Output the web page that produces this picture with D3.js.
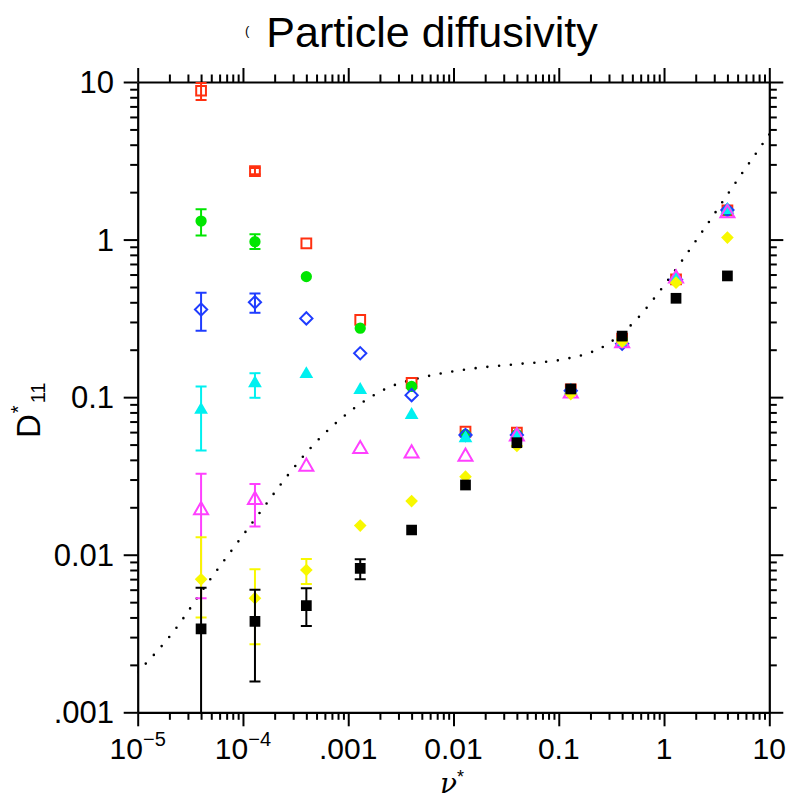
<!DOCTYPE html>
<html>
<head>
<meta charset="utf-8">
<script src="https://cdn.jsdelivr.net/npm/d3@7"></script>
<style>
  body { margin: 0; background: #fff; }
  svg text { font-family: "Liberation Sans", Arial, Helvetica, sans-serif; }
</style>
</head>
<body>
<div class="canvas"></div>
<script>
// collisionality values (x) shared by every series
const nuValues = [4e-5, 1.3e-4, 4e-4, 1.3e-3, 4e-3, 1.3e-2, 4e-2, 0.13, 0.4, 1.3, 4];

// D*11 values per series
const redValues     = [8.8, 2.72, 0.946, 0.309, 0.123, 0.0604, 0.0596, 0.112, 0.235, 0.56, 1.53];
const greenValues   = [1.31, 0.97, 0.582, 0.274, 0.117, 0.058, 0.058, 0.111, 0.232, 0.555, 1.52];
const blueValues    = [0.36, 0.40, 0.316, 0.19, 0.103, 0.0575, 0.0575, 0.11, 0.218, 0.555, 1.54];
const cyanValues    = [0.083, 0.1225, 0.14, 0.111, 0.077, 0.0548, 0.058, 0.11, 0.225, 0.56, 1.54];
const magentaValues = [0.0192, 0.0223, 0.0362, 0.0469, 0.044, 0.0419, 0.0564, 0.1055, 0.22, 0.567, 1.47];
const yellowValues  = [0.00698, 0.0053, 0.0080, 0.0153, 0.0219, 0.0313, 0.049, 0.1046, 0.225, 0.533, 1.03];
const blackValues   = [0.00338, 0.00377, 0.00475, 0.0082, 0.01435, 0.0277, 0.0514, 0.1127, 0.244, 0.424, 0.588];

// error bars [low, high], only for the first few points
const redErrors     = [[7.7, 9.85], [2.6, 2.85]];
const greenErrors   = [[1.06, 1.56], [0.87, 1.08]];
const blueErrors    = [[0.264, 0.46], [0.343, 0.455]];
const cyanErrors    = [[0.0458, 0.117], [0.099, 0.142]];
const magentaErrors = [[0.0053, 0.0326], [0.0151, 0.0281]];
const yellowErrors  = [[0.0040, 0.0129], [0.0027, 0.0081], [0.00653, 0.0094]];
const blackErrors   = [[0.0008, 0.00618], [0.00157, 0.0060], [0.00353, 0.00613], [0.00698, 0.00935]];

// dotted theory curve
const curveNu = [1e-5, 2.15e-5, 4.6e-5, 7.2e-5, 1.55e-4, 2.45e-4, 4.75e-4, 1.02e-3, 2.45e-3, 5.2e-3, 0.0142, 0.040, 0.112, 0.30, 0.53, 1.02, 2.15, 5.2, 10];
const curveD  = [0.0018, 0.0032, 0.0066, 0.0099, 0.0197, 0.0297, 0.0504, 0.0804, 0.1156, 0.134, 0.151, 0.162, 0.174, 0.220, 0.304, 0.521, 1.05, 2.49, 4.65];

// tick labels
const xMajor = [1e-5, 1e-4, 1e-3, 1e-2, 1e-1, 1, 10];
const xLabels = [['10', '\u22125'], ['10', '\u22124'], ['.001'], ['0.01'], ['0.1'], ['1'], ['10']];
const yMajor = [10, 1, 0.1, 0.01, 0.001];
const yLabels = ['10', '1', '0.1', '0.01', '.001'];

const dims = { width: 788, height: 800 };
const plot = { left: 137.7, right: 769.3, top: 82, bottom: 712.3 };

const svg = d3.select('.canvas')
    .append('svg')
    .attr('width', dims.width)
    .attr('height', dims.height);

const x = d3.scaleLog().domain([1e-5, 10]).range([plot.left, plot.right]);
const y = d3.scaleLog().domain([1e-3, 10]).range([plot.bottom, plot.top]);

// minor ticks 2..9 in every decade
const minorTicks = (lo, hi) => {
    const out = [];
    for (let e = lo; e < hi; e++) {
        for (let m = 2; m <= 9; m++) out.push(m * Math.pow(10, e));
    }
    return out;
};
const xMinor = minorTicks(-5, 1);
const yMinor = minorTicks(-3, 1);

// axes on all four sides, ticks pointing out
const axisLayer = svg.append('g').attr('class', 'axes');

const drawAxis = (axisFn, scale, transform, minor, major) => {
    const g = axisLayer.append('g').attr('transform', transform);
    g.call(axisFn(scale).tickValues(minor).tickSize(7.5).tickSizeOuter(0).tickFormat(''));
    const gm = axisLayer.append('g').attr('transform', transform);
    gm.call(axisFn(scale).tickValues(major).tickSize(14).tickSizeOuter(0).tickFormat(''));
    gm.select('.domain').remove();
    axisLayer.selectAll('path.domain').attr('stroke', '#000').attr('stroke-width', 2.2);
    axisLayer.selectAll('.tick line').attr('stroke', '#000').attr('stroke-width', 2);
};

drawAxis(d3.axisBottom, x, `translate(0,${plot.bottom})`, xMinor, xMajor);
drawAxis(d3.axisTop, x, `translate(0,${plot.top})`, xMinor, xMajor);
drawAxis(d3.axisLeft, y, `translate(${plot.left},0)`, yMinor, yMajor);
drawAxis(d3.axisRight, y, `translate(${plot.right},0)`, yMinor, yMajor);

// bottom tick labels (with superscripts)
const xText = svg.append('g').selectAll('text')
    .data(xMajor)
    .join('text')
    .attr('x', d => x(d))
    .attr('y', 759)
    .attr('text-anchor', 'middle')
    .attr('font-size', 30)
    .attr('fill', '#000');
xText.each(function(d, i) {
    const t = d3.select(this);
    const parts = xLabels[i];
    t.append('tspan').text(parts[0]);
    if (parts[1]) {
        t.append('tspan').attr('dy', -13).attr('font-size', 20).text(parts[1]);
    }
});

// left tick labels
svg.append('g').selectAll('text')
    .data(yMajor)
    .join('text')
    .attr('x', 114)
    .attr('y', d => y(d) + 11)
    .attr('text-anchor', 'end')
    .attr('font-size', 31)
    .attr('fill', '#000')
    .text((d, i) => yLabels[i]);

// title
svg.append('text')
    .attr('x', 245)
    .attr('y', 35)
    .attr('font-size', 13)
    .attr('fill', '#000')
    .text('(');
svg.append('text')
    .attr('x', 432)
    .attr('y', 47)
    .attr('text-anchor', 'middle')
    .attr('font-size', 43)
    .attr('fill', '#000')
    .text('Particle diffusivity');

// axis titles
const xTitle = svg.append('text')
    .attr('x', 452)
    .attr('y', 793)
    .attr('text-anchor', 'middle')
    .attr('fill', '#000');
xTitle.append('tspan')
    .attr('font-size', 28)
    .attr('font-style', 'italic')
    .attr('font-family', '"DejaVu Serif", serif')
    .text('\u03bd');
xTitle.append('tspan').attr('font-size', 18).attr('dy', -10).text('*');

const yTitle = svg.append('text')
    .attr('transform', 'translate(40,438) rotate(-90)')
    .attr('fill', '#000');
yTitle.append('tspan').attr('font-size', 33).text('D');
yTitle.append('tspan').attr('font-size', 20).attr('dx', 1).attr('dy', -15).text('*');
yTitle.append('tspan').attr('font-size', 20).attr('dx', 2).attr('dy', 20).text('11');

// dotted curve
const curvePoints = curveNu.map((n, i) => ({ nu: n, d: curveD[i] }));
const line = d3.line()
    .x(p => x(p.nu))
    .y(p => y(p.d))
    .curve(d3.curveMonotoneX);

svg.append('defs').append('clipPath').attr('id', 'plotClip')
    .append('rect')
    .attr('x', plot.left).attr('y', plot.top)
    .attr('width', plot.right - plot.left).attr('height', plot.bottom - plot.top);

svg.append('path')
    .datum(curvePoints)
    .attr('d', line)
    .attr('fill', 'none')
    .attr('stroke', '#000')
    .attr('stroke-width', 2.6)
    .attr('stroke-linecap', 'round')
    .attr('stroke-dasharray', '0 11.8')
    .attr('clip-path', 'url(#plotClip)');

// symbols
const diamond = {
    draw(context, size) {
        const r = Math.sqrt(size) / 2;
        context.moveTo(0, -r);
        context.lineTo(r, 0);
        context.lineTo(0, r);
        context.lineTo(-r, 0);
        context.closePath();
    }
};

const series = [
    { values: redValues,     errors: redErrors,     color: '#ff3010', type: d3.symbolSquare,   size: 95,  filled: false },
    { values: greenValues,   errors: greenErrors,   color: '#00e600', type: d3.symbolCircle,   size: 100, filled: true },
    { values: blueValues,    errors: blueErrors,    color: '#1f3cff', type: diamond,           size: 150, filled: false },
    { values: cyanValues,    errors: cyanErrors,    color: '#00f0f0', type: d3.symbolTriangle, size: 82,  filled: true },
    { values: magentaValues, errors: magentaErrors, color: '#ff40ff', type: d3.symbolTriangle, size: 85,  filled: false },
    { values: yellowValues,  errors: yellowErrors,  color: '#f8f800', type: diamond,           size: 160, filled: true },
    { values: blackValues,   errors: blackErrors,   color: '#000000', type: d3.symbolSquare,   size: 115, filled: true }
];

const dataLayer = svg.append('g').attr('clip-path', 'url(#plotClip)');
const capHalf = 5.5;

series.forEach(s => {
    const g = dataLayer.append('g');
    const errs = s.errors.map((e, i) => ({ nu: nuValues[i], lo: e[0], hi: e[1] }));

    g.selectAll('line.bar')
        .data(errs)
        .join('line')
        .attr('class', 'bar')
        .attr('x1', d => x(d.nu)).attr('x2', d => x(d.nu))
        .attr('y1', d => y(d.lo)).attr('y2', d => y(d.hi))
        .attr('stroke', s.color).attr('stroke-width', 2);

    ['lo', 'hi'].forEach(k => {
        g.selectAll(`line.cap-${k}`)
            .data(errs)
            .join('line')
            .attr('class', `cap-${k}`)
            .attr('x1', d => x(d.nu) - capHalf).attr('x2', d => x(d.nu) + capHalf)
            .attr('y1', d => y(d[k])).attr('y2', d => y(d[k]))
            .attr('stroke', s.color).attr('stroke-width', 2);
    });

    const pts = s.values.map((v, i) => ({ nu: nuValues[i], d: v }));
    g.selectAll('path.mark')
        .data(pts)
        .join('path')
        .attr('class', 'mark')
        .attr('d', d3.symbol().type(s.type).size(s.size))
        .attr('transform', d => `translate(${x(d.nu)},${y(d.d)})`)
        .attr('fill', s.filled ? s.color : 'none')
        .attr('stroke', s.filled ? 'none' : s.color)
        .attr('stroke-width', 2);
});
</script>
</body>
</html>
